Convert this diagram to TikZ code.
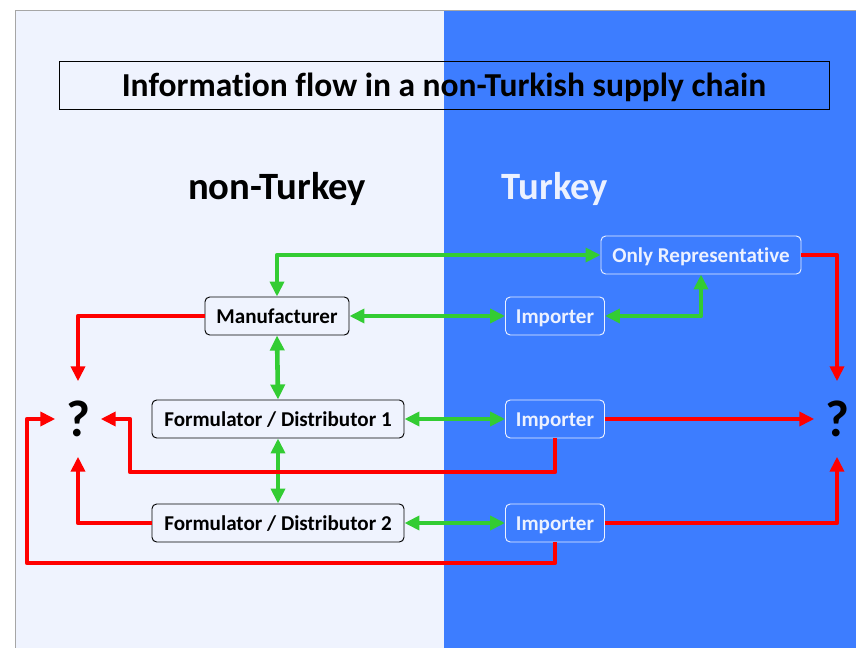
\documentclass[tikz,border=0pt]{standalone}
\usepackage{fontspec}
\setmainfont{Carlito}[Ligatures=NoCommon]
\usetikzlibrary{arrows.meta}
\definecolor{paleside}{RGB}{239,243,254}
\definecolor{blueside}{RGB}{61,125,255}
\definecolor{flowgreen}{RGB}{51,204,51}
\definecolor{flowred}{RGB}{255,0,0}
\definecolor{paletext}{RGB}{236,241,255}
\begin{document}
\begin{tikzpicture}[
    x=0.03cm, y=-0.03cm,
    actor/.style={rectangle, rounded corners=4pt, draw=black, line width=0.8pt, fill=paleside, minimum height=1.14cm, inner sep=0pt, text height=12.4pt, text depth=0pt, align=center, font=\bfseries\fontsize{18}{21}\selectfont},
    tractor/.style={actor, draw=paletext, fill=blueside, text=paletext},
    query/.style={minimum width=1.35cm, minimum height=2.25cm, inner sep=0pt, font=\bfseries\fontsize{44}{46}\selectfont},
    garrow/.style={{Triangle[length=0.45cm,width=0.42cm]}-{Triangle[length=0.45cm,width=0.42cm]}, flowgreen, line width=3.9pt, line join=round},
    rarrow/.style={-{Triangle[length=0.45cm,width=0.42cm]}, flowred, line width=3.9pt, line join=round}
]
    \useasboundingbox (0,0) rectangle (856,648);
    % Background
    \fill[white] (0,0) rectangle (856,648);
    \fill[paleside] (15,10) rectangle (444,648);
    \fill[blueside] (444,10) rectangle (856,648);
    \draw[gray!70, line width=0.8pt] (15,648) -- (15,10) -- (856,10);

    % Headings
    \node[draw=black, line width=0.8pt, minimum width=23.1cm, minimum height=1.44cm, text height=19.5pt, text depth=0pt, font=\bfseries\fontsize{28.6}{32}\selectfont] (title) at (444,85) {Information flow in a non-Turkish supply chain};
    \node[font=\bfseries\fontsize{33}{38}\selectfont] (nonturkey) at (277,189) {non-Turkey};
    \node[font=\bfseries\fontsize{33}{38}\selectfont, text=paletext] (turkey) at (555,189) {Turkey};

    % Actors
    \node[tractor, minimum width=6cm] (orep) at (701,255) {Only Representative};
    \node[actor, minimum width=4.32cm] (manu) at (277,316) {Manufacturer};
    \node[tractor, minimum width=2.97cm] (imp1) at (555,316) {Importer};
    \node[actor, minimum width=7.56cm] (fd1) at (278,419) {Formulator / Distributor 1};
    \node[tractor, minimum width=2.97cm] (imp2) at (555,419) {Importer};
    \node[actor, minimum width=7.56cm] (fd2) at (278,523) {Formulator / Distributor 2};
    \node[tractor, minimum width=2.97cm] (imp3) at (555,523) {Importer};
    \node[query] (qleft) at (78,419) {?};
    \node[query] (qright) at (837,419) {?};
    \coordinate (back1) at (130,472);
    \coordinate (back2) at (27,563);

    % Green arrows
    \draw[garrow] (manu.north) |- (orep.west);
    \draw[garrow] (manu.east) -- (imp1.west);
    \draw[garrow] (imp1.east) -| (orep.south);
    \draw[garrow] (manu.south) -- (fd1.north);
    \draw[garrow] (fd1.south) -- (fd2.north);
    \draw[garrow] (fd1.east) -- (imp2.west);
    \draw[garrow] (fd2.east) -- (imp3.west);

    % Red arrows
    \draw[rarrow] (manu.west) -| (qleft.north);
    \draw[rarrow] (fd2.west) -| (qleft.south);
    \draw[rarrow] (imp2.south) |- (back1) |- (qleft.east);
    \draw[rarrow] (imp3.south) |- (back2) |- (qleft.west);
    \draw[rarrow] (orep.east) -| (qright.north);
    \draw[rarrow] (imp2.east) -- (qright.west);
    \draw[rarrow] (imp3.east) -| (qright.south);
\end{tikzpicture}
\end{document}
